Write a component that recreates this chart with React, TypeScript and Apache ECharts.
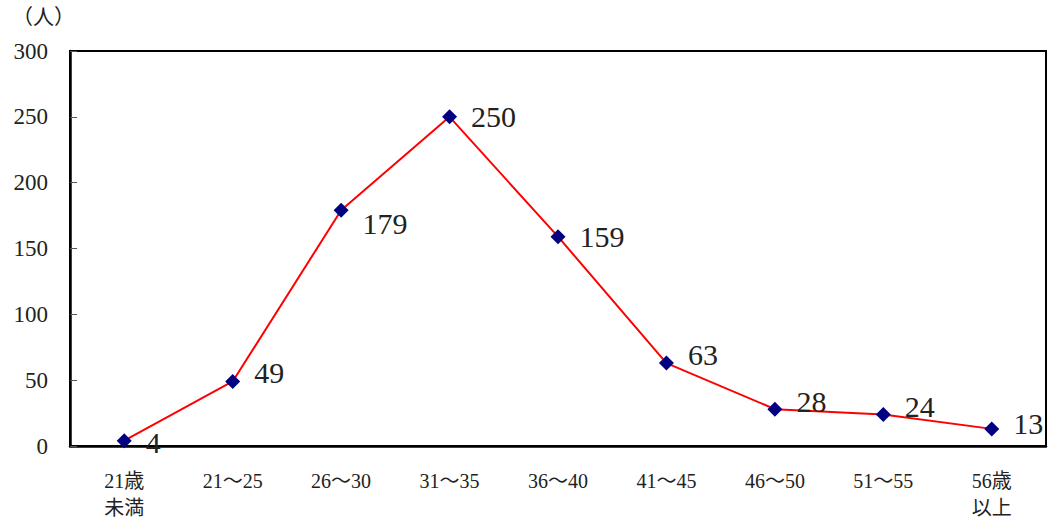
import React, { useEffect, useRef } from "react";
import * as echarts from "echarts";

const categories = ["21歳\n未満", "21～25", "26～30", "31～35", "36～40", "41～45", "46～50", "51～55", "56歳\n以上"];
const values = [4, 49, 179, 250, 159, 63, 28, 24, 13];
const labelOffsetY = [2, -9, 13, 0, 0, -9, -8, -8, -5];
const yTicks = [0, 50, 100, 150, 200, 250, 300];

const FONT = "Liberation Serif, Noto Sans CJK JP, serif";

export default function App() {
  const ref = useRef<HTMLDivElement>(null);
  useEffect(() => {
    if (!ref.current) return;
    const chart = echarts.init(ref.current, undefined, { renderer: "svg" });
    chart.setOption({
      animation: false,
      backgroundColor: "#ffffff",
      textStyle: { fontFamily: FONT },
      grid: {
        left: 70,
        right: 3,
        top: 51,
        bottom: 72,
        show: true,
        borderColor: "#000",
        borderWidth: 2,
        containLabel: false,
      },
      graphic: [
        {
          type: "text",
          left: 12,
          top: 6,
          style: { text: "（人）", fontFamily: FONT, fontSize: 21, fill: "#222" },
        },
      ],
      xAxis: {
        type: "category",
        data: categories,
        boundaryGap: true,
        axisLine: { lineStyle: { color: "#000", width: 2.5 } },
        axisTick: { inside: true, length: 7, lineStyle: { color: "#000" }, alignWithLabel: false },
        axisLabel: {
          color: "#222",
          fontSize: 20,
          fontFamily: FONT,
          margin: 21,
          lineHeight: 27,
          interval: 0,
        },
      },
      yAxis: {
        type: "value",
        min: yTicks[0],
        max: yTicks[yTicks.length - 1],
        interval: 50,
        axisLine: { show: true, lineStyle: { color: "#000", width: 2.5 } },
        axisTick: { show: true, inside: true, length: 7, lineStyle: { color: "#555" } },
        splitLine: { show: false },
        axisLabel: { color: "#222", fontSize: 23, fontFamily: FONT, margin: 22 },
      },
      series: [
        {
          type: "line",
          data: values.map((v, i) => ({
            value: v,
            label: { offset: [0, labelOffsetY[i]] },
          })),
          symbol: "diamond",
          symbolSize: 15,
          itemStyle: { color: "#000080" },
          lineStyle: { color: "#ff0000", width: 2 },
          label: {
            show: true,
            position: "right",
            distance: 14,
            fontSize: 30,
            color: "#222",
            fontFamily: FONT,
          },
        },
      ],
    });
    return () => chart.dispose();
  }, []);
  return (
    <div
      ref={ref}
      style={{ position: "fixed", left: 0, top: 0, width: 1049, height: 521 }}
    />
  );
}
